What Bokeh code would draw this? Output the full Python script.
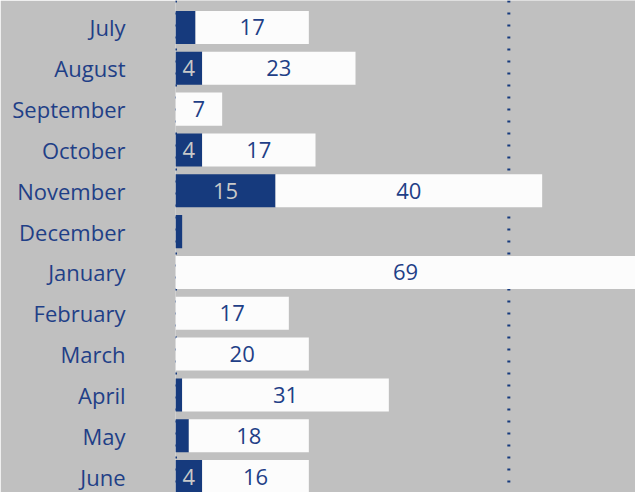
from bokeh.plotting import figure
from bokeh.models import Range1d, FixedTicker, Span, ColumnDataSource
from bokeh.core.properties import value
from bokeh.embed import file_html
from bokeh.resources import INLINE

months = ["July", "August", "September", "October", "November", "December",
          "January", "February", "March", "April", "May", "June"]
dark_vals = [3, 4, 0, 4, 15, 1, 0, 0, 0, 1, 2, 4]
light_vals = [17, 23, 7, 17, 40, 0, 69, 17, 20, 31, 18, 16]
ref_lines = [0, 50]

BG = "#c0c0c0"
DARK = "#163a7d"
TXT = "#1f3f87"
FONT = "Open Sans"
FS = "22px"

ypos = list(range(len(months)))
ends = [d + l for d, l in zip(dark_vals, light_vals)]

p = figure(width=635, height=492, output_backend="svg", toolbar_location=None,
           x_range=Range1d(0, 69), y_range=Range1d(11.39, -0.66),
           min_border_left=175, min_border_right=0, min_border_top=0, min_border_bottom=0)
p.background_fill_color = BG
p.border_fill_color = BG
p.outline_line_color = None
p.xgrid.visible = False
p.ygrid.visible = False
p.xaxis.visible = False

ax = p.yaxis[0]
ax.ticker = FixedTicker(ticks=ypos)
ax.major_label_overrides = {i: m for i, m in zip(ypos, months)}
ax.axis_line_color = None
ax.major_tick_line_color = None
ax.minor_tick_line_color = None
ax.major_label_standoff = 44
ax.major_label_text_font = FONT
ax.major_label_text_font_size = FS
ax.major_label_text_color = TXT

for xv in ref_lines:
    p.add_layout(Span(location=xv, dimension="height", line_color=DARK,
                      line_width=3, line_dash="2 10", level="underlay"))

src = ColumnDataSource(dict(y=ypos, dark=dark_vals, light=light_vals, end=ends,
                            zero=[0] * len(ypos)))
p.hbar(y="y", left="zero", right="dark", height=0.81, source=src,
       fill_color=DARK, line_color=None)
p.hbar(y="y", left="dark", right="end", height=0.81, source=src,
       fill_color="#fcfcfc", line_color=None)

# labels for dark segments (only if wide enough)
dl = [(d / 2, y, str(d)) for d, y in zip(dark_vals, ypos) if d >= 4]
p.text(x=[a[0] for a in dl], y=[a[1] for a in dl], text=[a[2] for a in dl],
       text_align="center", text_baseline="middle", text_color="#c9c9c9",
       text_font=value(FONT), text_font_size=FS)
ll = [(d + l / 2, y, str(l)) for d, l, y in zip(dark_vals, light_vals, ypos) if l > 0]
p.text(x=[a[0] for a in ll], y=[a[1] for a in ll], text=[a[2] for a in ll],
       text_align="center", text_baseline="middle", text_color=TXT,
       text_font=value(FONT), text_font_size=FS)

html = file_html(p, INLINE)
html = html.replace("<body>", '<body style="margin:0;overflow:hidden;background:#c0c0c0">', 1)
open("out.html", "w").write(html)
